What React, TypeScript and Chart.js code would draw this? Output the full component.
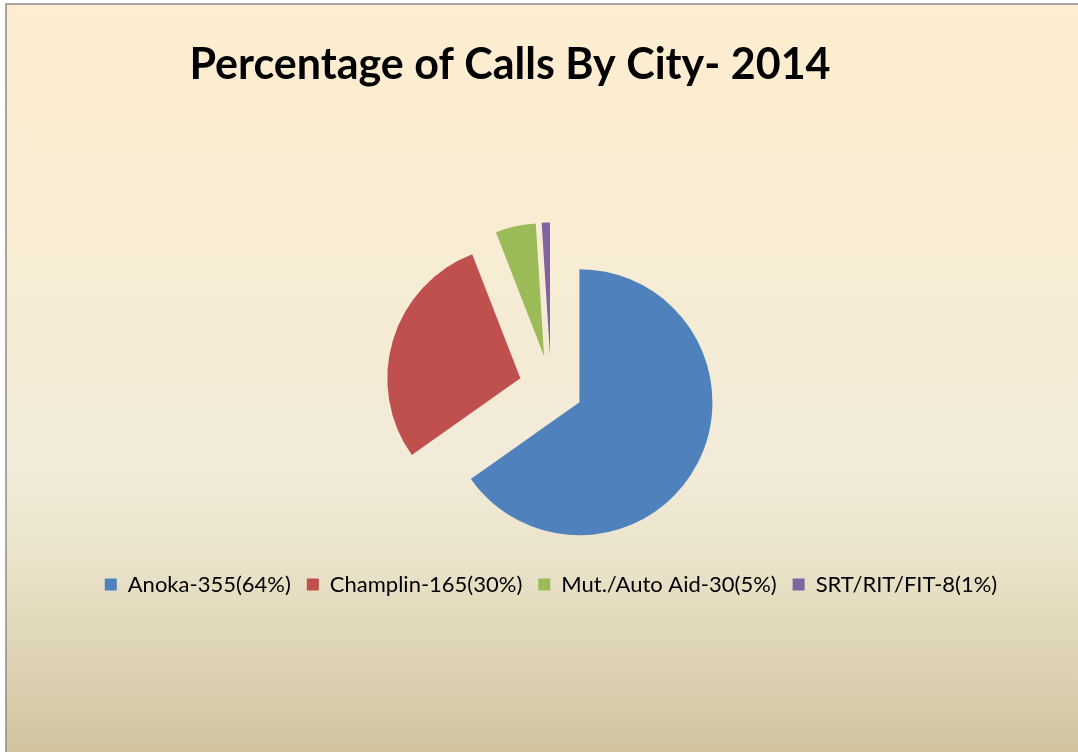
import React, { useEffect, useRef } from "react";
import { Chart, registerables } from "chart.js";

Chart.register(...registerables);

// ---- data ----
const titleText = "Percentage of Calls By City- 2014";
const cities = ["Anoka", "Champlin", "Mut./Auto Aid", "SRT/RIT/FIT"];
const callCounts = [355, 165, 30, 8];
const labelPercents = [64, 30, 5, 1];
// angular share of each slice as drawn in the picture (percent)
const sliceShares = [65.2, 28.9, 4.9, 1.0];
const sliceColors = ["#4F81BD", "#C0504D", "#9BBB59", "#8064A2"];

const legendLabels = cities.map(
  (c, i) => `${c}-${callCounts[i]}(${labelPercents[i]}%)`
);

const EXPLODE = 32;
const FONT = "Lato, 'Open Sans', 'DejaVu Sans', sans-serif";

const backgroundPlugin = {
  id: "bgFrame",
  beforeDraw(chart: any) {
    const { ctx, width, height } = chart;
    ctx.save();
    ctx.fillStyle = "#ffffff";
    ctx.fillRect(0, 0, width, height);
    const g = ctx.createLinearGradient(0, 4, 0, height);
    g.addColorStop(0, "#FEEDD0");
    g.addColorStop(0.35, "#F7ECD4");
    g.addColorStop(0.62, "#F1EBD9");
    g.addColorStop(0.75, "#EAE2C9");
    g.addColorStop(1, "#D1C49F");
    ctx.fillStyle = g;
    ctx.fillRect(6, 4, width - 6, height - 4);
    ctx.strokeStyle = "#8C8C8C";
    ctx.lineWidth = 1.5;
    ctx.beginPath();
    ctx.moveTo(width, 4);
    ctx.lineTo(6, 4);
    ctx.lineTo(6, height);
    ctx.stroke();
    ctx.restore();
  },
};

const titlePlugin = {
  id: "customTitle",
  afterDraw(chart: any) {
    const { ctx } = chart;
    ctx.save();
    ctx.fillStyle = "#000000";
    ctx.font = `bold 43px ${FONT}`;
    ctx.textAlign = "center";
    ctx.textBaseline = "alphabetic";
    ctx.fillText(titleText, 510, 79);
    ctx.restore();
  },
};

const explodePlugin = {
  id: "explode",
  beforeDatasetsDraw(chart: any) {
    const meta = chart.getDatasetMeta(0);
    const ctx = chart.ctx;
    meta.data.forEach((arc: any) => {
      const { startAngle, endAngle } = arc.getProps(["startAngle", "endAngle"]);
      const mid = (startAngle + endAngle) / 2;
      ctx.save();
      ctx.translate(Math.cos(mid) * EXPLODE, Math.sin(mid) * EXPLODE);
      arc.draw(ctx);
      ctx.restore();
    });
    return false;
  },
};

export default function App() {
  const canvasRef = useRef<HTMLCanvasElement | null>(null);

  useEffect(() => {
    if (!canvasRef.current) return;
    const chart = new Chart(canvasRef.current, {
      type: "pie",
      data: {
        labels: legendLabels,
        datasets: [
          {
            data: sliceShares,
            backgroundColor: sliceColors,
            borderWidth: 0,
          },
        ],
      },
      options: {
        responsive: false,
        animation: false,
        radius: 133,
        rotation: 0,
        layout: {
          padding: { left: 34, right: 10, top: 217.5, bottom: 146.5 },
        },
        plugins: {
          title: { display: false },
          tooltip: { enabled: false },
          legend: {
            display: true,
            position: "bottom",
            labels: {
              boxWidth: 12,
              boxHeight: 12,
              padding: 16,
              color: "#000000",
              font: { family: FONT, size: 22 },
            },
          },
        },
      } as any,
      plugins: [backgroundPlugin, titlePlugin, explodePlugin],
    });
    return () => chart.destroy();
  }, []);

  return (
    <div
      style={{
        position: "fixed",
        left: 0,
        top: 0,
        width: 1078,
        height: 752,
        margin: 0,
      }}
    >
      <canvas
        ref={canvasRef}
        width={1078}
        height={752}
        style={{ width: 1078, height: 752, display: "block" }}
      />
    </div>
  );
}
